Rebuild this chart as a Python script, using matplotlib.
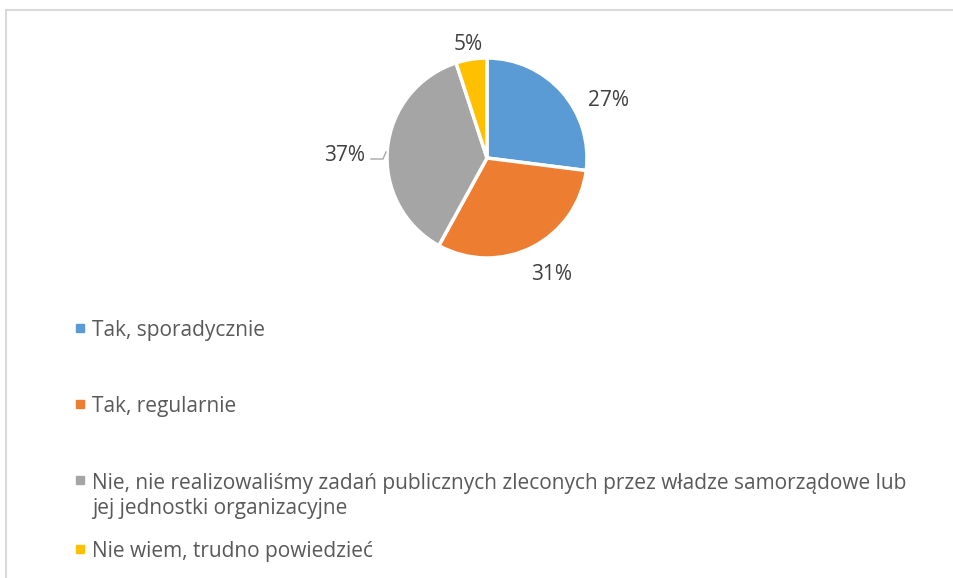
import matplotlib.pyplot as plt
from matplotlib.patches import Rectangle
from matplotlib.lines import Line2D

# dane
labels = ["Tak, sporadycznie", "Tak, regularnie",
          "Nie, nie realizowaliśmy zadań publicznych zleconych przez władze samorządowe lub\njej jednostki organizacyjne",
          "Nie wiem, trudno powiedzieć"]
values = [27, 31, 37, 5]
colors = ["#5B9BD5", "#ED7D31", "#A5A5A5", "#FFC000"]

W, H = 954, 578
FS = 15
plt.rcParams['font.family'] = ['Open Sans', 'DejaVu Sans']
fig = plt.figure(figsize=(W / 100, H / 100), dpi=100)
ax = fig.add_axes([0, 0, 1, 1])

# pie in pixel coordinates (y measured from bottom)
cx, cy, r = 487, H - 158, 100
ax.pie(values, colors=colors, startangle=90, counterclock=False,
       center=(cx, cy), radius=r, frame=True,
       wedgeprops=dict(edgecolor='white', linewidth=2.5))
ax.set_xlim(0, W)
ax.set_ylim(0, H)
ax.set_aspect('equal')
ax.axis('off')

# label positions relative to the centre (Excel best-fit placement)
label_offsets = [(122, 58), (65, -116), (-142, 3), (-19, 114)]
for v, (dx, dy) in zip(values, label_offsets):
    ax.text(cx + dx, cy + dy, f"{v}%", ha='center', va='center',
            fontsize=FS, color='#404040')
# leader line for 37%
ax.plot([cx - 116, cx - 104, cx - 101], [cy - 1, cy - 1, cy + 6],
        color='#A6A6A6', lw=1)

# legend
legend_y = [328, 404, 480, 549]
for lab, col, y in zip(labels, colors, legend_y):
    ax.add_patch(Rectangle((76, H - y - 4), 8, 8, color=col))
    if '\n' in lab:
        ax.text(92, H - y - 16, lab, ha='left', va='center', fontsize=FS,
                color='#595959', linespacing=1.3)
    else:
        ax.text(92, H - y - 2.5, lab, ha='left', va='center', fontsize=FS,
                color='#595959')

# chart frame
ax.add_line(Line2D([6.5, W], [H - 9.5, H - 9.5], color='#D9D9D9', lw=1.5))
ax.add_line(Line2D([6.5, 6.5], [0, H - 9.5], color='#D9D9D9', lw=1.5))

fig.savefig("out.png", dpi=100)
